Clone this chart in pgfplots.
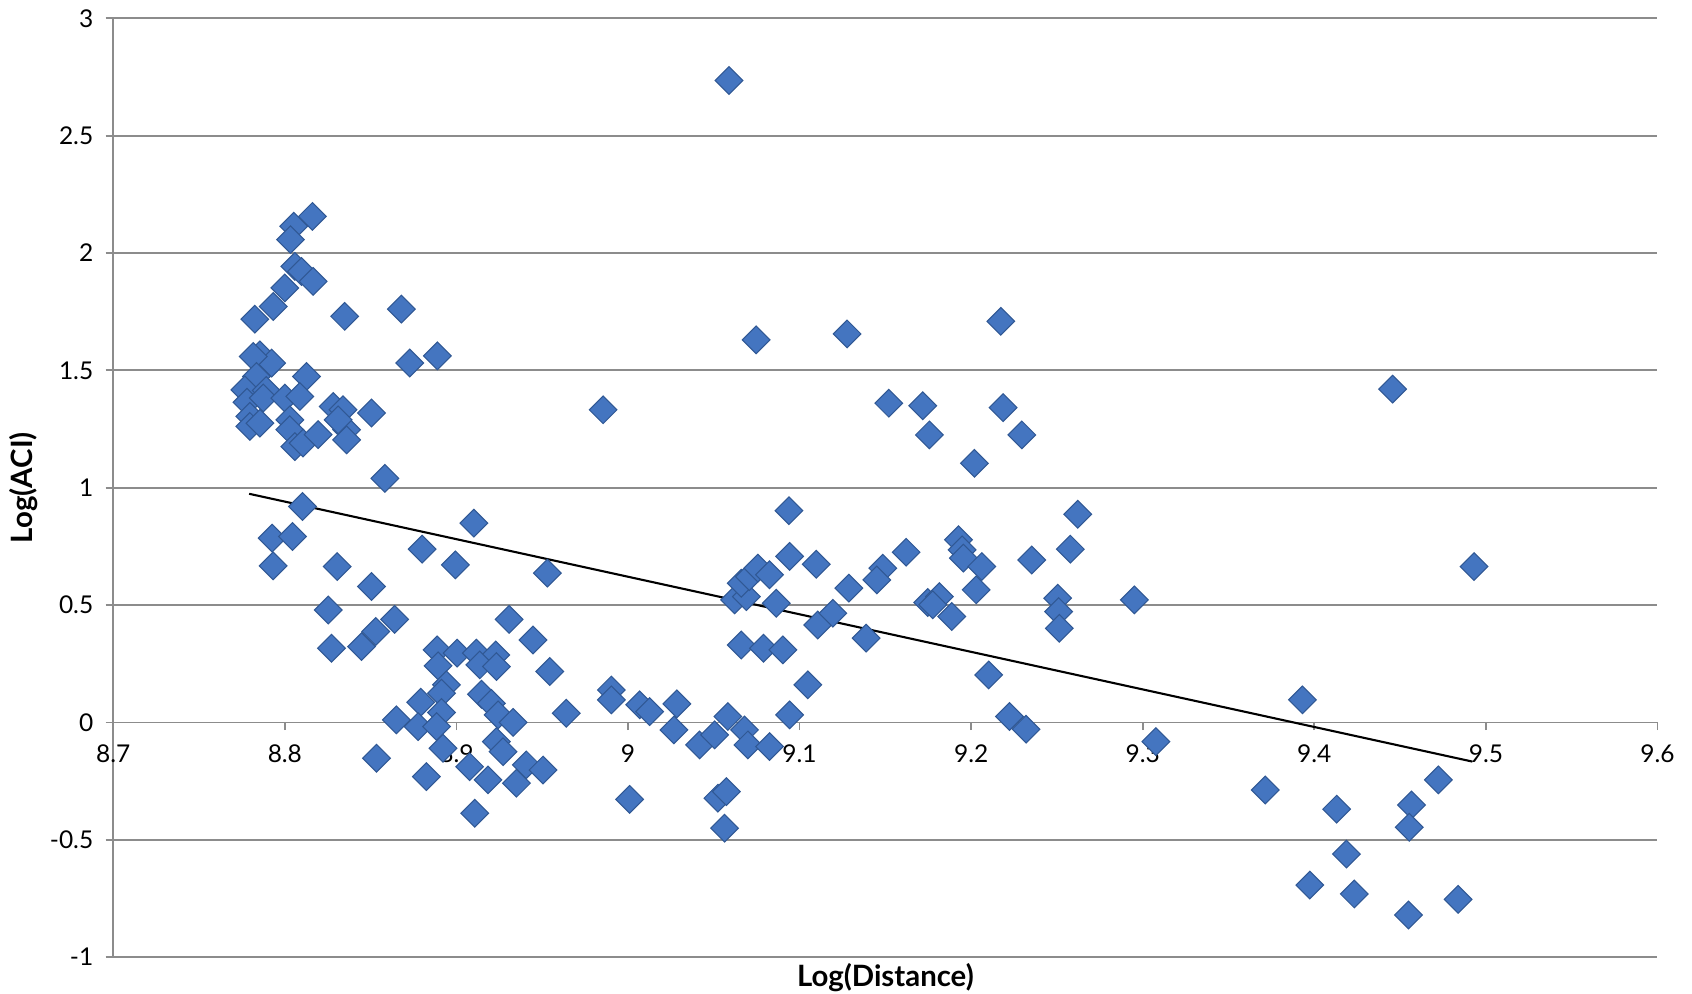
\documentclass[border=0pt]{standalone}
\usepackage{pgfplots}
\pgfplotsset{compat=1.18}
\usepackage{fontspec}
\setmainfont{Lato}
\definecolor{gridgray}{RGB}{140,140,140}
\definecolor{ptfill}{RGB}{68,117,192}
\definecolor{ptedge}{RGB}{48,88,148}
\begin{document}
\begin{tikzpicture}
\begin{axis}[
  scale only axis, width=15.515cm, height=9.432cm,
  xmin=8.7, xmax=9.6, ymin=-1, ymax=3,
  axis x line=middle, axis y line=left,
  axis line style={draw=gridgray, line width=0.5pt, -},
  hide obscured x ticks=false, hide obscured y ticks=false,
  xtick={8.7,8.8,8.9,9.0,9.1,9.2,9.3,9.4,9.5,9.6},
  ytick={-1,-0.5,0,0.5,1,1.5,2,2.5,3},
  ymajorgrids, grid style={draw=gridgray, line width=0.5pt},
  tick style={draw=gridgray, line width=0.5pt},
  major tick length=2.2pt,
  xtick align=outside, ytick align=outside,
  /pgf/number format/assume math mode=true,
  tick label style={font=\fontsize{7}{8}\selectfont},
  xticklabel style={anchor=north, yshift=-0.8pt},
  yticklabel style={anchor=east},
  every axis x label/.style={at={(axis description cs:0.5,-0.022)}, anchor=center, inner sep=0pt},
  every axis y label/.style={at={(axis description cs:-0.058,0.5)}, rotate=90, anchor=center, inner sep=0pt},
  label style={font=\fontsize{8.4}{10}\selectfont\bfseries},
  xlabel={Log(Distance)}, ylabel={Log(ACI)},
  clip=false,
]
\addplot[only marks, mark=square*, mark size=2.8pt,
  mark options={rotate=45, fill=ptfill, draw=ptedge, line width=0.3pt}]
coordinates {
(8.8161,2.156)(8.8052,2.114)(8.8033,2.057)(8.8058,1.943)(8.8097,1.921)
(8.8165,1.879)(8.8000,1.851)(8.7932,1.772)(8.7825,1.718)(8.8349,1.730)
(8.8679,1.761)(8.8728,1.531)(8.8889,1.562)(8.7855,1.566)(8.7923,1.531)
(8.7816,1.559)(8.7835,1.474)(8.8126,1.474)(8.7767,1.417)(8.7892,1.414)
(8.7779,1.364)(8.7874,1.382)(8.8000,1.382)(8.8087,1.389)(8.7796,1.304)
(8.7796,1.261)(8.7855,1.275)(8.8029,1.289)(8.8029,1.247)(8.8058,1.175)
(8.8106,1.190)(8.8194,1.226)(8.8282,1.346)(8.8339,1.332)(8.8360,1.247)
(8.8360,1.204)(8.8311,1.289)(8.8505,1.318)(8.8583,1.040)
(8.8103,0.920)(8.7926,0.785)(8.8045,0.792)(8.7932,0.667)(8.8305,0.664)
(8.8505,0.579)(8.8253,0.479)(8.8272,0.316)(8.8447,0.323)(8.8530,0.387)
(8.8640,0.439)(8.8650,0.011)(8.8534,-0.153)(8.8800,0.738)(8.8994,0.671)
(8.9102,0.849)(8.9530,0.636)(8.9307,0.439)(8.9446,0.351)(8.9544,0.217)
(8.9640,0.039)(8.8887,0.309)(8.9004,0.295)(8.8893,0.241)(8.9116,0.295)
(8.9229,0.287)(8.9136,0.245)(8.9233,0.238)(8.8942,0.160)(8.8913,0.124)
(8.9146,0.120)(8.9204,0.081)(8.8792,0.086)(8.8913,0.042)(8.9243,0.032)
(8.9330,0.000)(8.8777,-0.018)(8.8884,-0.018)(8.9233,-0.082)(8.9272,-0.125)
(8.8922,-0.110)(8.9077,-0.189)(8.8825,-0.231)(8.9184,-0.245)(8.9350,-0.259)
(8.9407,-0.181)(8.9505,-0.203)(8.9107,-0.387)
(8.9855,1.332)(8.9903,0.138)(8.9903,0.096)(9.0068,0.075)(9.0126,0.046)
(9.0285,0.079)(9.0268,-0.032)(9.0417,-0.096)(9.0505,-0.053)(9.0582,0.025)
(9.0679,-0.032)(9.0699,-0.096)(9.0825,-0.103)(9.0942,0.032)(9.1048,0.160)
(9.0009,-0.328)(9.0524,-0.323)(9.0573,-0.295)(9.0563,-0.451)(9.0660,0.330)
(9.0790,0.316)(9.0903,0.309)(9.0621,0.522)(9.0690,0.536)(9.0660,0.593)
(9.0708,0.621)(9.0757,0.657)(9.0825,0.629)(9.0864,0.508)(9.0942,0.707)
(9.1097,0.674)(9.1106,0.415)(9.0589,2.735)(9.0747,1.630)(9.1277,1.655)
(9.1520,1.360)(9.1718,1.349)(9.1757,1.225)(9.0938,0.902)(9.1621,0.725)
(9.1485,0.657)(9.1450,0.607)(9.1287,0.572)(9.1194,0.465)(9.1388,0.359)
(9.2295,1.225)(9.2019,1.104)(9.2173,1.709)(9.2186,1.341)(9.2621,0.887)
(9.1926,0.778)(9.1947,0.735)(9.1955,0.700)(9.2062,0.664)(9.2029,0.565)
(9.2353,0.692)(9.2578,0.738)(9.1747,0.511)(9.1815,0.536)(9.1776,0.501)
(9.1887,0.451)(9.2504,0.529)(9.2510,0.472)(9.2514,0.401)(9.2102,0.202)
(9.2223,0.025)(9.2320,-0.029)(9.2951,0.522)(9.3077,-0.082)
(9.3931,0.096)(9.3714,-0.288)(9.4130,-0.370)(9.4723,-0.245)(9.4566,-0.352)
(9.4553,-0.447)(9.4187,-0.561)(9.3974,-0.693)(9.4233,-0.731)(9.4549,-0.821)
(9.4838,-0.754)(9.4456,1.420)(9.4931,0.664)
};
\addplot[black, line width=0.6pt, no marks] coordinates {(8.7792,0.974)(9.4921,-0.167)};
\end{axis}
\pgfresetboundingbox
\path ([shift={(-1.138cm,-0.369cm)}]current axis.south west) rectangle ([shift={(0.347cm,0.184cm)}]current axis.north east);
\end{tikzpicture}
\end{document}
